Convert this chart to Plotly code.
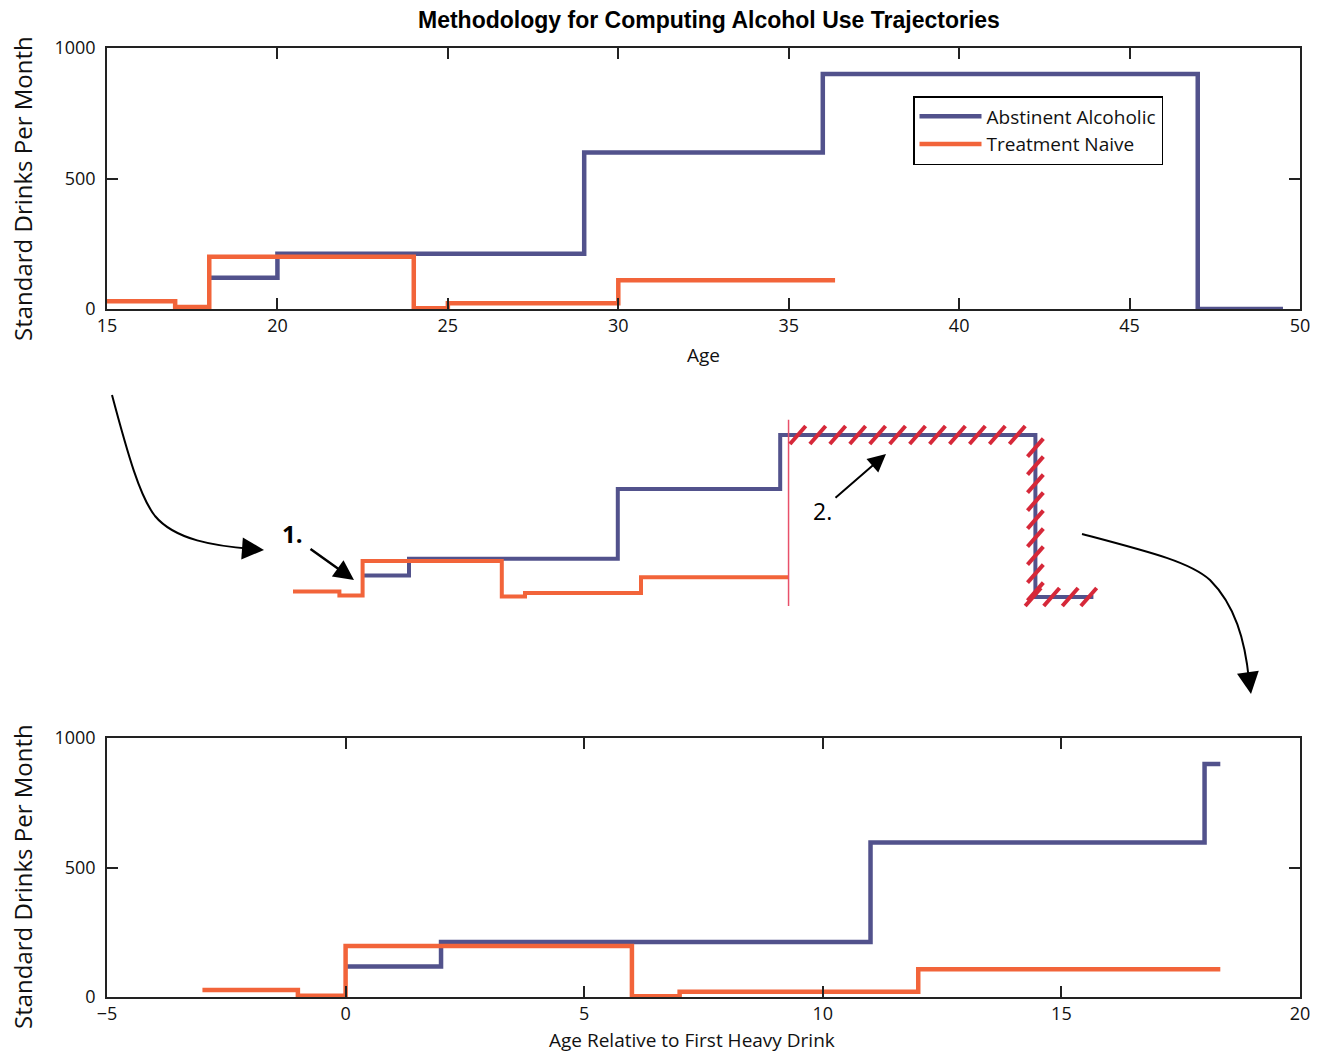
import numpy as np
import plotly.graph_objects as go

W, H = 1322, 1052

# ---------------- data ----------------
# Top panel: by age
ABST_AGE = [18, 20, 29, 36, 47, 49.5]
ABST_DRINKS = [120, 212, 600, 900, 0, 0]
NAIVE_AGE = [15, 17, 18, 24, 25, 30, 36.36]
NAIVE_DRINKS = [30, 8, 200, 3, 22, 110, 110]

# Bottom panel: by age relative to first heavy drink
ABST_REL = [0, 2, 11, 18, 18.33]
ABST_REL_DRINKS = [118, 212, 597, 900, 900]
NAIVE_REL = [-3, -1, 0, 6, 7, 12, 18.33]
NAIVE_REL_DRINKS = [27, 5, 197, 3, 20, 107, 107]

TOP_XTICKS = [15, 20, 25, 30, 35, 40, 45, 50]
BOT_XTICKS = [-5, 0, 5, 10, 15, 20]
Y_TICKS = [0, 500, 1000]

BLUE = "#52528c"
ORANGE = "#f2643a"
RED = "#d62839"
PINK = "#e8506a"

SANS = "Open Sans, Lato, sans-serif"
TICK_FONT = dict(family=SANS, size=18, color="#111")


def px(x):
    return x / W


def py(y):
    return 1 - y / H


fig = go.Figure()

# top panel
fig.add_trace(go.Scatter(x=ABST_AGE, y=ABST_DRINKS, mode="lines", name="Abstinent Alcoholic",
                         line=dict(shape="hv", color=BLUE, width=4.5), xaxis="x", yaxis="y"))
fig.add_trace(go.Scatter(x=NAIVE_AGE, y=NAIVE_DRINKS, mode="lines", name="Treatment Naive",
                         line=dict(shape="hv", color=ORANGE, width=4.5), xaxis="x", yaxis="y"))

# bottom panel
fig.add_trace(go.Scatter(x=ABST_REL, y=ABST_REL_DRINKS, mode="lines", showlegend=False,
                         line=dict(shape="hv", color=BLUE, width=4.5), xaxis="x2", yaxis="y2"))
fig.add_trace(go.Scatter(x=NAIVE_REL, y=NAIVE_REL_DRINKS, mode="lines", showlegend=False,
                         line=dict(shape="hv", color=ORANGE, width=4.5), xaxis="x2", yaxis="y2"))

# middle schematic (same trajectories, no axes)
fig.add_trace(go.Scatter(x=ABST_AGE, y=ABST_DRINKS, mode="lines", showlegend=False,
                         line=dict(shape="hv", color=BLUE, width=4), xaxis="x3", yaxis="y3"))
fig.add_trace(go.Scatter(x=NAIVE_AGE, y=NAIVE_DRINKS, mode="lines", showlegend=False,
                         line=dict(shape="hv", color=ORANGE, width=4), xaxis="x3", yaxis="y3"))

shapes = []
# red cut line at end of treatment-naive record
cut = NAIVE_AGE[-1]
shapes.append(dict(type="line", xref="x3", yref="y3", x0=cut, x1=cut, y0=-50, y1=985,
                   line=dict(color=PINK, width=1.5)))

# hatching over the discarded part of the abstinent trajectory
DX, DY = 0.34, 50
hatch_pts = []
top_level = ABST_DRINKS[3]
drop_age = ABST_AGE[4]
for a in np.arange(cut + 0.4, drop_age + 0.01, 0.86):
    hatch_pts.append((a, top_level))
for v in np.arange(top_level - 70, 0, -100):
    hatch_pts.append((drop_age, v))
for a in np.arange(drop_age - 0.1, ABST_AGE[-1] + 0.4, 0.8):
    hatch_pts.append((a, 0))
for (a, v) in hatch_pts:
    shapes.append(dict(type="line", xref="x3", yref="y3", x0=a - DX, x1=a + DX,
                       y0=v - DY, y1=v + DY, line=dict(color=RED, width=4)))


def path_from(points):
    s = "M {:.5f},{:.5f}".format(px(points[0][0]), py(points[0][1]))
    rest = points[1:]
    for i in range(0, len(rest), 3):
        c1, c2, e = rest[i:i + 3]
        s += " C {:.5f},{:.5f} {:.5f},{:.5f} {:.5f},{:.5f}".format(
            px(c1[0]), py(c1[1]), px(c2[0]), py(c2[1]), px(e[0]), py(e[1]))
    return s


# curved arrows
shapes.append(dict(type="path", xref="paper", yref="paper",
                   path=path_from([(112, 395), (128, 455), (140, 497), (155, 516),
                                   (175, 540), (215, 546), (252, 549)]),
                   line=dict(color="black", width=2)))
shapes.append(dict(type="path", xref="paper", yref="paper",
                   path=path_from([(1082, 534), (1150, 552), (1190, 562), (1210, 580),
                                   (1235, 605), (1245, 640), (1249, 680)]),
                   line=dict(color="black", width=2)))

annotations = []


def arrow(hx, hy, tx, ty, width=2, size=1.6):
    annotations.append(dict(x=px(hx), y=py(hy), xref="paper", yref="paper", text="",
                            showarrow=True, arrowhead=2, arrowsize=size, arrowwidth=width,
                            arrowcolor="black", ax=tx - hx, ay=ty - hy))


def label(x, y, text, font, angle=0):
    annotations.append(dict(x=px(x), y=py(y), xref="paper", yref="paper", text=text,
                            showarrow=False, xanchor="center", yanchor="middle",
                            textangle=angle, font=font))


arrow(264, 550, 250, 549, width=2, size=2.2)
arrow(1251, 694, 1249, 680, width=2, size=2.2)
arrow(354, 580, 309, 548, width=2.5, size=1.6)
arrow(886, 454, 834, 499, width=2, size=1.8)

label(292, 533, "<b>1.</b>", dict(family=SANS, size=24, color="black"))
label(822, 511, "2.", dict(family=SANS, size=23, color="black"))

# title and axis titles
label(709, 20, "<b>Methodology for Computing Alcohol Use Trajectories</b>",
      dict(family="Liberation Sans, Arial, sans-serif", size=23, color="black"))
label(703, 355, "Age", dict(family=SANS, size=19, color="#111"))
label(692, 1040, "Age Relative to First Heavy Drink", dict(family=SANS, size=19, color="#111"))
label(22, 189, "Standard Drinks Per Month", dict(family=SANS, size=24, color="#111"), angle=-90)
label(22, 877, "Standard Drinks Per Month", dict(family=SANS, size=24, color="#111"), angle=-90)

axis_common = dict(showline=True, mirror="allticks", linecolor="#222", linewidth=1.5,
                   ticks="inside", ticklen=11, tickwidth=1.5, tickcolor="#222",
                   showgrid=False, zeroline=False, tickfont=TICK_FONT, automargin=False)
y_extra = dict(ticklabelstandoff=6)

x_dom = [px(107), px(1300)]
fig.update_layout(
    width=W, height=H,
    margin=dict(l=0, r=0, t=0, b=0),
    paper_bgcolor="white", plot_bgcolor="white",
    showlegend=True,
    legend=dict(x=px(913), y=py(96), xanchor="left", yanchor="top",
                bgcolor="white", bordercolor="black", borderwidth=1.5,
                font=dict(family=SANS, size=19, color="#111"),
                itemwidth=62, tracegroupgap=6),
    xaxis=dict(domain=x_dom, range=[15, 50], tickvals=TOP_XTICKS, anchor="y", **axis_common),
    yaxis=dict(domain=[py(309), py(48)], range=[0, 1000], tickvals=Y_TICKS, anchor="x",
               **axis_common, **y_extra),
    xaxis2=dict(domain=x_dom, range=[-5, 20], tickvals=BOT_XTICKS, anchor="y2", **axis_common),
    yaxis2=dict(domain=[py(997), py(738)], range=[0, 1000], tickvals=Y_TICKS, anchor="x2",
                **axis_common, **y_extra),
    xaxis3=dict(domain=[px(269.8), px(1128.2)], range=[14, 51], visible=False, anchor="y3"),
    yaxis3=dict(domain=[py(624), py(408)], range=[-150, 1050], visible=False, anchor="x3"),
    shapes=shapes,
    annotations=annotations,
)

fig.write_html("out.html", config={"displayModeBar": False},
               post_script="document.body.style.margin='0';document.body.style.overflow='hidden';")
